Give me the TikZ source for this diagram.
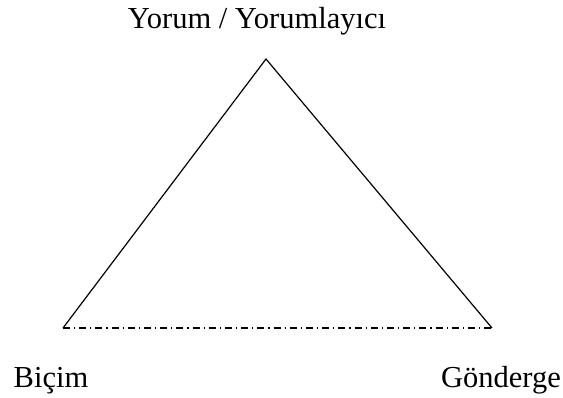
\documentclass[tikz,border=0pt]{standalone}
\usepackage{fontspec}
\setmainfont{Liberation Serif}
\begin{document}
\begin{tikzpicture}[x=1pt, y=-1pt,
    label/.style={anchor=base, inner sep=0pt, font=\fontsize{30.5}{36}\selectfont},
    side/.style={line width=1.2pt, line join=miter},
    base/.style={line width=1.2pt, dash pattern=on 7pt off 4pt on 1.2pt off 4pt}]
    \useasboundingbox (0,0) rectangle (563,397);
    \coordinate (apex) at (266,59);
    \coordinate (left) at (63,328);
    \coordinate (right) at (492,328);
    \draw[side] (left) -- (apex) -- (right);
    \draw[base] (left) -- (right);
    \node[label] (yorum) at (257,28) {Yorum / Yorumlayıcı};
    \node[label] (bicim) at (51,387) {Biçim};
    \node[label] (gonderge) at (501,387) {Gönderge};
  \end{tikzpicture}
\end{document}
